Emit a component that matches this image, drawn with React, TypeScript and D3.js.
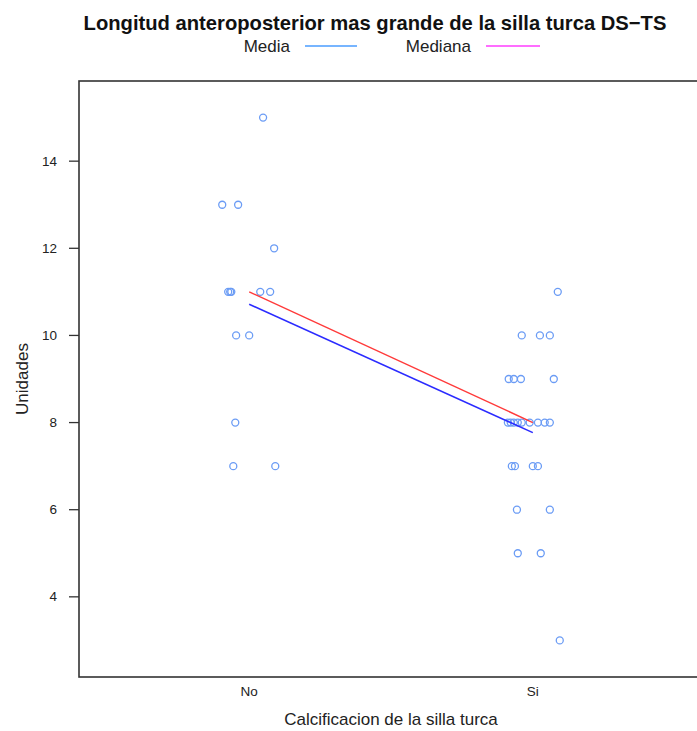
import React from "react";
import * as d3 from "d3";

const categories = ["No", "Si"];
const noValues = [15, 13, 13, 12, 11, 11, 11, 11, 11, 10, 10, 8, 7, 7];
const noJitter = [0.049, -0.095, -0.039, 0.088, -0.074, -0.067, -0.063, 0.039, 0.074, -0.046, 0.0, -0.049, -0.056, 0.092];
const siValues = [11, 10, 10, 10, 9, 9, 9, 9, 8, 8, 8, 8, 8, 8, 8, 8, 8, 7, 7, 7, 7, 6, 6, 5, 5, 3];
const siJitter = [0.088, -0.039, 0.025, 0.06, -0.085, -0.067, -0.042, 0.074, -0.088, -0.078, -0.067, -0.053, -0.039, -0.011, 0.018, 0.042, 0.06, -0.074, -0.063, 0.0, 0.018, -0.056, 0.06, -0.053, 0.028, 0.095];
const yTicks = [4, 6, 8, 10, 12, 14];

const W = 697;
const H = 731;
const left = 79;
const right = 703;
const top = 81;
const bottom = 677;

export default function App() {
  const x = d3.scaleLinear().domain([0.4, 2.6]).range([left, right]);
  const y = d3.scaleLinear().domain([2.16, 15.84]).range([bottom, top]);
  const groups = [noValues, siValues];
  const jitters = [noJitter, siJitter];
  const means = groups.map((g) => d3.mean(g) as number);
  const medians = groups.map((g) => d3.median(g) as number);
  const line = d3
    .line<number>()
    .x((_, i) => x(i + 1))
    .y((d) => y(d));
  const font = "Liberation Sans, Arial, sans-serif";
  const pointColor = "#6b9cf5";
  return (
    <svg
      width={W}
      height={H}
      style={{ position: "absolute", left: 0, top: 0, background: "#fff" }}
      fontFamily={font}
    >
      <text x={375} y={30} textAnchor="middle" fontWeight="bold" fontSize={20.2} fill="#111">
        Longitud anteroposterior mas grande de la silla turca DS−TS
      </text>
      <text x={290} y={52} textAnchor="end" fontSize={17} fill="#222">
        Media
      </text>
      <line x1={305} x2={357} y1={46} y2={46} stroke="#4a9cff" strokeWidth={1.5} />
      <text x={471} y={52} textAnchor="end" fontSize={17} fill="#222">
        Mediana
      </text>
      <line x1={486} x2={540} y1={46} y2={46} stroke="#ff3cff" strokeWidth={1.5} />

      <clipPath id="clip">
        <rect x={left} y={top} width={right - left} height={bottom - top} />
      </clipPath>
      <g clipPath="url(#clip)">
        {groups.map((g, gi) =>
          g.map((v, i) => (
            <circle
              key={gi + "-" + i}
              cx={x(gi + 1 + jitters[gi][i])}
              cy={y(v)}
              r={3.5}
              fill="none"
              stroke={pointColor}
              strokeWidth={1.3}
            />
          ))
        )}
        <path d={line(medians) || ""} fill="none" stroke="#ff3a3a" strokeWidth={1.4} />
        <path d={line(means) || ""} fill="none" stroke="#2b2bff" strokeWidth={1.6} />
      </g>

      <rect x={left} y={top} width={right - left} height={bottom - top} fill="none" stroke="#333" strokeWidth={1.6} />

      {yTicks.map((t) => (
        <g key={t}>
          <line x1={left - 10} x2={left} y1={y(t)} y2={y(t)} stroke="#333" strokeWidth={1.3} />
          <text x={left - 22} y={y(t) + 4.5} textAnchor="end" fontSize={13.5} fill="#222">
            {t}
          </text>
        </g>
      ))}
      {categories.map((c, i) => (
        <text key={c} x={x(i + 1)} y={696} textAnchor="middle" fontSize={13.5} fill="#222">
          {c}
        </text>
      ))}
      <text x={(left + right) / 2} y={725} textAnchor="middle" fontSize={17} fill="#222">
        Calcificacion de la silla turca
      </text>
      <text
        transform={`translate(28, ${(top + bottom) / 2}) rotate(-90)`}
        textAnchor="middle"
        fontSize={17}
        fill="#222"
      >
        Unidades
      </text>
    </svg>
  );
}
